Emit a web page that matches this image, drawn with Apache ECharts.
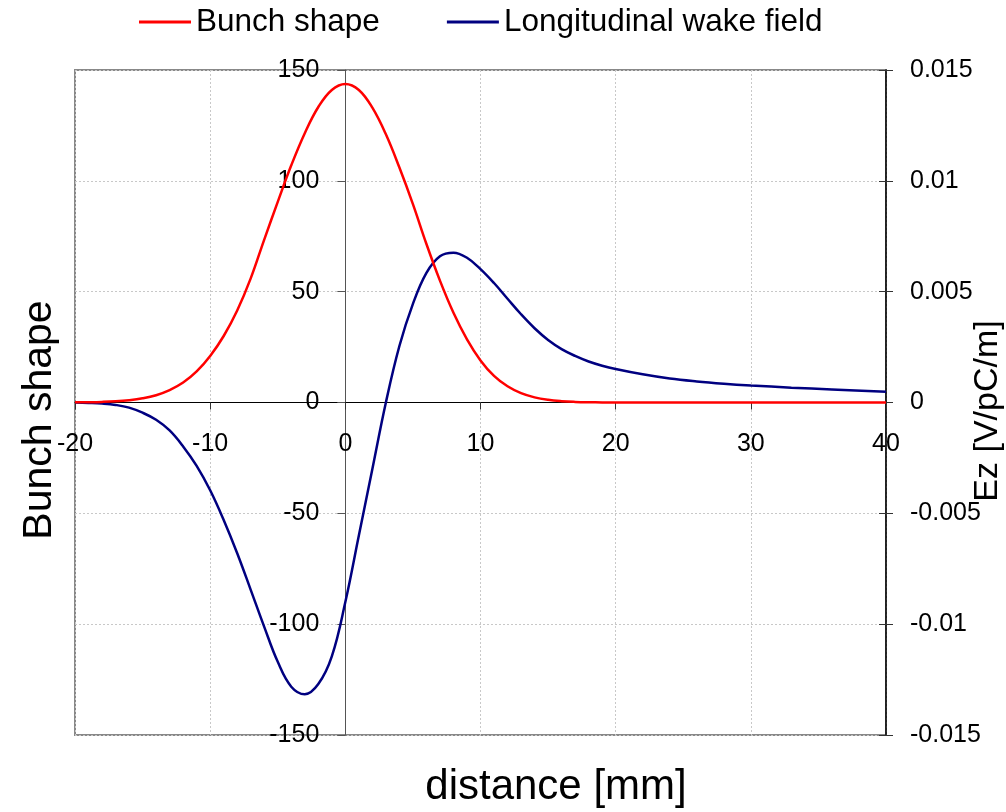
<!DOCTYPE html>
<html>
<head>
<meta charset="utf-8">
<script src="https://cdn.jsdelivr.net/npm/echarts@6/dist/echarts.min.js"></script>
<style>
html,body{margin:0;padding:0;background:#fff;}
#chart{width:1006px;height:812px;}
</style>
</head>
<body>
<div id="chart"></div>
<script>
// distance [mm] for the bunch shape samples
const bunchX = [-20,-19,-18,-17,-16,-15,-14,-13,-12,-11,-10,-9,-8,-7,-6,-5,-4,-3,-2,-1,0,1,2,3,4,5,6,7,8,9,10,11,12,13,14,15,16,17,18,19,20,22,24,26,28,30,32,34,36,38,40];
const bunchY = [0.07,0.14,0.28,0.55,1.05,1.9,3.3,5.6,9.0,14.0,21.0,30.0,41.5,56.0,73.5,90.5,107.0,121.5,133.3,141.0,143.7,141.0,133.0,121.0,106.0,89.5,71.5,55.0,40.5,28.5,19.0,12.0,7.3,4.2,2.3,1.2,0.6,0.28,0.12,0.05,0.02,0,0,0,0,0,0,0,0,0,0];
// distance [mm] and Ez [V/pC/m] for the longitudinal wake field
const wakeX = [-20,-19,-18,-17,-16,-15,-14,-13,-12,-11,-10,-9,-8,-7,-6,-5,-4,-3,-2,-1,0,1,2,3,4,5,6,7,8,9,10,11,12,13,14,15,16,17,18,19,20,22,24,26,28,30,33,36,40];
const wakeY = [0,-0.00002,-0.00005,-0.00011,-0.00023,-0.00046,-0.00078,-0.00126,-0.00198,-0.00286,-0.00396,-0.00530,-0.00680,-0.00845,-0.01012,-0.01170,-0.01282,-0.01316,-0.01270,-0.01145,-0.00900,-0.00600,-0.00300,0.00000,0.00255,0.00445,0.00585,0.00660,0.00676,0.00653,0.00602,0.00539,0.00468,0.00398,0.00335,0.00282,0.00241,0.00210,0.00185,0.00166,0.00151,0.00127,0.00108,0.00095,0.00085,0.00077,0.00067,0.00059,0.00049];
const seriesNames = ['Bunch shape', 'Longitudinal wake field'];
const titles = {x: 'distance [mm]', yLeft: 'Bunch shape', yRight: 'Ez [V/pC/m]'};

const FONT = 'Liberation Sans, Arial, sans-serif';
const GRID = {left: 75, right: 120, top: 70, bottom: 77};
const W = 1006, H = 812;
const plotW = W - GRID.left - GRID.right;
const plotH = H - GRID.top - GRID.bottom;
const chart = echarts.init(document.getElementById('chart'), null, {renderer: 'canvas'});
const gridLine = {show: true, lineStyle: {color: '#c8c8c8', type: [2, 2], width: 1}};
const xMin = -20, xMax = 40, yMin = -150, yMax = 150;
const rMin = -0.015, rMax = 0.015, rStep = 0.005;
chart.setOption({
  animation: false,
  backgroundColor: '#fff',
  textStyle: {fontFamily: FONT},
  legend: {
    left: 139, top: 6, padding: 0,
    icon: 'rect',
    itemWidth: 52, itemHeight: 3, itemGap: 67,
    textStyle: {fontSize: 31.5, color: '#000', fontFamily: FONT},
    data: seriesNames
  },
  grid: Object.assign({show: true, borderColor: '#888', borderWidth: 2, backgroundColor: 'transparent'}, GRID),
  xAxis: {
    type: 'value', min: xMin, max: xMax, interval: 10, position: 'bottom',
    // axis line sits at y = 0 of the left axis
    offset: -plotH * (0 - yMin) / (yMax - yMin),
    axisLine: {show: true, onZero: false, lineStyle: {color: '#000', width: 1}},
    axisTick: {show: true, inside: false, length: 7, lineStyle: {color: '#333'}},
    axisLabel: {fontSize: 25, color: '#000', margin: 29, fontFamily: FONT},
    splitLine: gridLine
  },
  yAxis: [
    {
      type: 'value', min: yMin, max: yMax, interval: 50, position: 'left',
      // axis line sits at x = 0
      offset: -plotW * (0 - xMin) / (xMax - xMin),
      axisLine: {show: true, onZero: false, lineStyle: {color: '#555', width: 1}},
      axisTick: {show: true, inside: false, length: 8, lineStyle: {color: '#555'}},
      axisLabel: {fontSize: 25, color: '#000', margin: 26, fontFamily: FONT},
      splitLine: gridLine
    },
    {
      type: 'value', min: rMin, max: rMax, interval: rStep, position: 'right',
      axisLine: {show: true, onZero: false, lineStyle: {color: '#000', width: 1.5}},
      axisTick: {show: true, inside: true, length: 7, lineStyle: {color: '#333'}},
      axisLabel: {fontSize: 25, color: '#000', margin: 24, fontFamily: FONT,
        formatter: v => String(parseFloat(v.toFixed(4)))},
      splitLine: {show: false}
    },
    {
      // outer half of the crossing ticks on the right axis
      type: 'value', min: rMin, max: rMax, interval: rStep, position: 'right',
      axisLine: {show: false, onZero: false},
      axisTick: {show: true, inside: false, length: 7, lineStyle: {color: '#333'}},
      axisLabel: {show: false},
      splitLine: {show: false}
    }
  ],
  graphic: [
    {type: 'text', x: 556, y: 787, style: {text: titles.x, fontSize: 42, fill: '#000', fontFamily: FONT, textAlign: 'center', textVerticalAlign: 'middle'}},
    {type: 'text', x: 40, y: 420, rotation: Math.PI / 2, style: {text: titles.yLeft, fontSize: 41, fill: '#000', fontFamily: FONT, textAlign: 'center', textVerticalAlign: 'middle'}},
    {type: 'text', x: 988, y: 411, rotation: Math.PI / 2, style: {text: titles.yRight, fontSize: 34, fill: '#000', fontFamily: FONT, textAlign: 'center', textVerticalAlign: 'middle'}}
  ],
  series: [
    {
      name: seriesNames[0], type: 'line', yAxisIndex: 0, symbol: 'none', smooth: 0.4,
      lineStyle: {color: '#ff0000', width: 2.5}, itemStyle: {color: '#ff0000'},
      data: bunchX.map((x, i) => [x, bunchY[i]]), z: 3
    },
    {
      name: seriesNames[1], type: 'line', yAxisIndex: 1, symbol: 'none', smooth: 0.4,
      lineStyle: {color: '#000080', width: 2.5}, itemStyle: {color: '#000080'},
      data: wakeX.map((x, i) => [x, wakeY[i]]), z: 2
    }
  ]
});
</script>
</body>
</html>
